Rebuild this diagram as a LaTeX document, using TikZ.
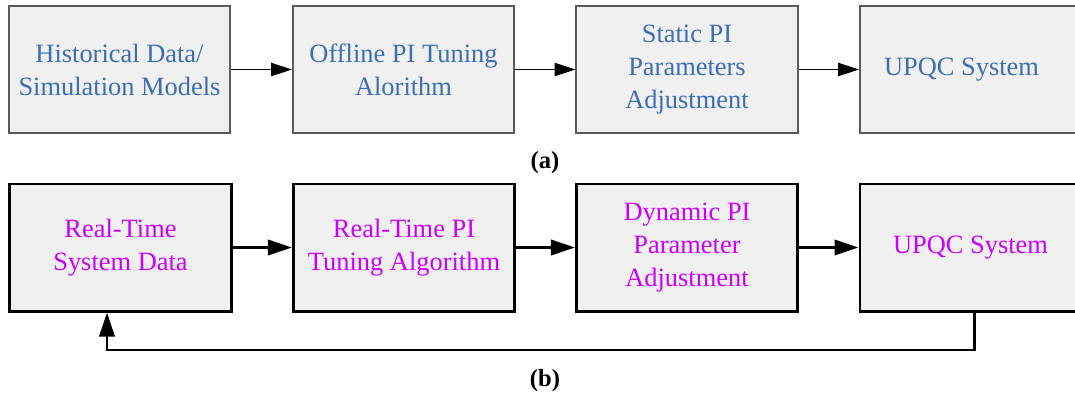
\documentclass[tikz,border=0pt]{standalone}
\usepackage{fontspec}
\setmainfont{Liberation Serif}
\usetikzlibrary{arrows.meta}

\definecolor{offblue}{RGB}{60,110,180}
\definecolor{rtpink}{RGB}{204,0,255}
\definecolor{boxfill}{RGB}{240,240,240}

\begin{document}
\begin{tikzpicture}[x=0.025cm,y=-0.025cm,
  blk/.style={rectangle,fill=boxfill,minimum width=5.525cm,minimum height=3.175cm,
    align=center,inner sep=0pt,font=\fontsize{18.8}{23.5}\selectfont},
  offblk/.style={blk,draw=black!65,line width=1.4pt,text=offblue},
  rtblk/.style={blk,draw=black,line width=2.1pt,text=rtpink},
  offarr/.style={line width=1.1pt,-{Triangle[length=0.52cm,width=0.33cm]}},
  rtarr/.style={line width=2.1pt,-{Triangle[length=0.6cm,width=0.38cm]}},
  subcap/.style={font=\fontsize{17.5}{20}\selectfont\bfseries}]
  \useasboundingbox (0,0) rectangle (1075,396);
  \clip (0,0) rectangle (1075,396);

  % (a) offline tuning chain
  \node[offblk] (hist)    at (119.5,69.5) {Historical Data/\\Simulation Models};
  \node[offblk] (offtune) at (403.5,69.5) {Offline PI Tuning\\Alorithm};
  \node[offblk] (statpi)  at (687,69.5)   {Static PI\\Parameters\\Adjustment};
  \node[offblk] (upqca)   at (970.5,69.5) {UPQC System\hspace{0.45cm}};

  \draw[offarr] (hist) -- (offtune);
  \draw[offarr] (offtune) -- (statpi);
  \draw[offarr] (statpi) -- (upqca);

  \node[subcap] (capa) at (545,163) {(a)};

  % (b) real-time tuning loop
  \node[rtblk] (rtdata) at (120.5,247.5) {Real-Time\\System Data};
  \node[rtblk] (rttune) at (404,247.5)   {Real-Time PI\\Tuning Algorithm};
  \node[rtblk] (dynpi)  at (687,247.5)   {Dynamic PI\\Parameter\\Adjustment};
  \node[rtblk] (upqcb)  at (970.5,247.5) {UPQC System};

  \draw[rtarr] (rtdata) -- (rttune);
  \draw[rtarr] (rttune) -- (dynpi);
  \draw[rtarr] (dynpi) -- (upqcb);

  % feedback from the plant back to the data block
  \coordinate (fb) at (107,350);
  \draw[rtarr] ([xshift=0.09cm]upqcb.south) |- (fb) -- (fb |- rtdata.south);

  \node[subcap] (capb) at (545,381) {(b)};
\end{tikzpicture}
\end{document}
